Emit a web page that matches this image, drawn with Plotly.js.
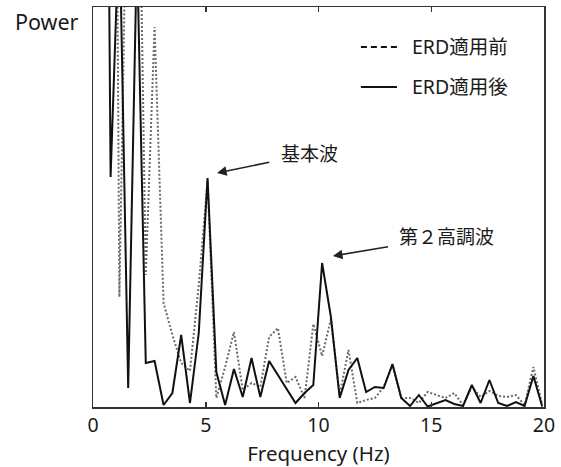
<!DOCTYPE html>
<html>
<head>
<meta charset="utf-8">
<script src="https://cdn.plot.ly/plotly-3.0.1.min.js"></script>
<style>html,body{margin:0;padding:0;background:#fff;}</style>
</head>
<body>
<div id="chart" style="width:561px;height:467px;"></div>
<script>
// Frequency bins (Hz)
const freq = [0, 0.39, 0.78, 1.17, 1.56, 1.95, 2.34, 2.73, 3.13, 3.52, 3.91, 4.30, 4.69, 5.08, 5.47, 5.86,
  6.25, 6.64, 7.03, 7.42, 7.81, 8.20, 8.59, 8.98, 9.38, 9.77, 10.16, 10.55, 10.94, 11.33, 11.72, 12.11,
  12.50, 12.89, 13.28, 13.67, 14.06, 14.45, 14.84, 15.23, 15.63, 16.02, 16.41, 16.80, 17.19, 17.58,
  17.97, 18.36, 18.75, 19.14, 19.53, 19.92];

// Power before ERD (dotted)
const powerBefore = [1000, 1200, 1500, 110, 620, 700, 132, 380, 104, 72, 44, 36, 122, 226, 9, 40,
  75, 17, 24, 20, 70, 79, 24, 30, 9, 83, 51, 88, 12, 57, 4, 7,
  9, 20, 42, 9, 9, 4, 15, 12, 9, 14, 2, 20, 10, 16,
  11, 10, 12, 2, 40, 2];

// Power after ERD (solid)
const powerAfter = [1000, 1400, 230, 490, 19, 460, 44, 46, 2, 14, 72, 4, 74, 229, 35, 2,
  38, 10, 49, 10, 46, 32, 17, 4, 14, 22, 144, 90, 9, 37, 49, 15,
  20, 19, 43, 9, 1, 12, 0.5, 4, 7, 3, 1, 22, 4, 27,
  4, 1, 5, 1, 31, 0.5];

const xTicks = [0, 5, 10, 15, 20];
const seriesNames = ['ERD適用前', 'ERD適用後'];
const labelFundamental = '基本波';
const labelHarmonic = '第２高調波';
const fundamentalPoint = [5.5, 234];
const harmonicPoint = [10.64, 151];

const FONT = '"Noto Sans", "Noto Sans CJK JP", sans-serif';
const TXT = '#1a1a1a';

const traces = [
  {x: freq, y: powerBefore, type: 'scatter', mode: 'lines', name: seriesNames[0],
   line: {color: '#6a6a6a', width: 2, dash: '2px,2px'}, showlegend: false},
  {x: freq, y: powerAfter, type: 'scatter', mode: 'lines', name: seriesNames[1],
   line: {color: '#111', width: 2}, showlegend: false}
];

const layout = {
  width: 561, height: 467,
  margin: {l: 93, r: 17, t: 7, b: 60},
  paper_bgcolor: '#fff', plot_bgcolor: '#fff',
  font: {family: FONT, color: TXT},
  showlegend: false,
  xaxis: {
    range: [0, 20], tickvals: xTicks, ticktext: xTicks.map(String),
    ticks: 'inside', ticklen: 5, tickwidth: 1.5, tickcolor: '#333',
    showline: true, linecolor: '#333', linewidth: 1.5, mirror: 'ticks',
    showgrid: false, zeroline: false,
    tickfont: {family: FONT, size: 19.5, color: TXT},
    title: {text: 'Frequency (Hz)', font: {family: FONT, size: 20.5, color: TXT}, standoff: 10}
  },
  yaxis: {
    range: [0, 400], showticklabels: false, ticks: '',
    showline: true, linecolor: '#333', linewidth: 1.5, mirror: true,
    showgrid: false, zeroline: false
  },
  shapes: [
    {type: 'line', xref: 'paper', yref: 'paper', x0: 0.594, x1: 0.674, y0: 0.9, y1: 0.9,
     line: {color: '#111', width: 2, dash: '6px,4px'}},
    {type: 'line', xref: 'paper', yref: 'paper', x0: 0.594, x1: 0.674, y0: 0.8, y1: 0.8,
     line: {color: '#111', width: 2}}
  ],
  annotations: [
    {text: 'Power', xref: 'paper', yref: 'paper', x: -0.102, y: 0.9625,
     xanchor: 'center', yanchor: 'middle', showarrow: false,
     font: {family: FONT, size: 21.5, color: TXT}},
    {text: seriesNames[0], xref: 'paper', yref: 'paper', x: 0.703, y: 0.9,
     xanchor: 'left', yanchor: 'middle', showarrow: false,
     font: {family: FONT, size: 19.5, color: TXT}},
    {text: seriesNames[1], xref: 'paper', yref: 'paper', x: 0.703, y: 0.8,
     xanchor: 'left', yanchor: 'middle', showarrow: false,
     font: {family: FONT, size: 19.5, color: TXT}},
    {text: labelFundamental, x: fundamentalPoint[0], y: fundamentalPoint[1], xref: 'x', yref: 'y',
     showarrow: true, ax: 92, ay: -19, arrowhead: 2, arrowsize: 1.2, arrowwidth: 1.6,
     arrowcolor: '#222', startstandoff: 10,
     font: {family: FONT, size: 19, color: TXT}},
    {text: labelHarmonic, x: harmonicPoint[0], y: harmonicPoint[1], xref: 'x', yref: 'y',
     showarrow: true, ax: 114, ay: -19, arrowhead: 2, arrowsize: 1.2, arrowwidth: 1.6,
     arrowcolor: '#222', startstandoff: 10,
     font: {family: FONT, size: 19, color: TXT}}
  ]
};

Plotly.newPlot('chart', traces, layout, {staticPlot: true, displayModeBar: false});
</script>
</body>
</html>
